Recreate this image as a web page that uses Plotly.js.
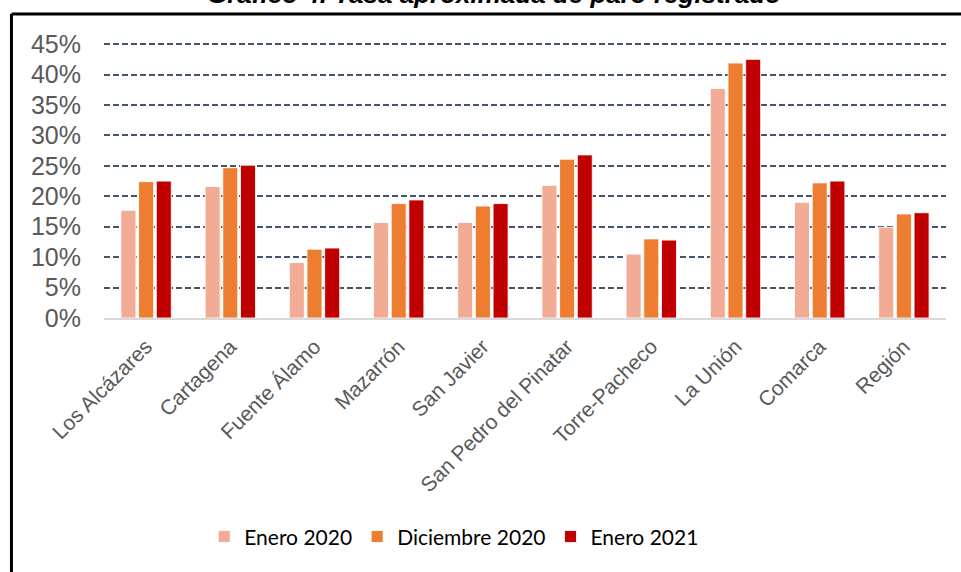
<!DOCTYPE html>
<html>
<head>
<meta charset="utf-8">
<script src="https://cdn.plot.ly/plotly-3.0.1.min.js"></script>
<style>
  html, body { margin: 0; padding: 0; background: #ffffff; }
  #chart { width: 961px; height: 572px; }
</style>
</head>
<body>
<div id="chart"></div>
<script>
const categories = ["Los Alcázares", "Cartagena", "Fuente Álamo", "Mazarrón", "San Javier",
  "San Pedro del Pinatar", "Torre-Pacheco", "La Unión", "Comarca", "Región"];
const seriesNames = ["Enero 2020", "Diciembre 2020", "Enero 2021"];
const enero2020 = [0.177, 0.216, 0.091, 0.157, 0.157, 0.218, 0.105, 0.377, 0.190, 0.149];
const diciembre2020 = [0.224, 0.247, 0.113, 0.188, 0.184, 0.261, 0.130, 0.419, 0.222, 0.171];
const enero2021 = [0.225, 0.251, 0.115, 0.194, 0.188, 0.268, 0.128, 0.425, 0.225, 0.173];
const yTickVals = [0, 0.05, 0.10, 0.15, 0.20, 0.25, 0.30, 0.35, 0.40, 0.45];
const yTickText = ["0%", "5%", "10%", "15%", "20%", "25%", "30%", "35%", "40%", "45%"];
const titleText = "Gráfico 4. Tasa aproximada de paro registrado";

const colors = ["#F2AB95", "#ED7D31", "#C00000"];
const values = [enero2020, diciembre2020, enero2021];

const traces = values.map((v, i) => ({
  type: "bar",
  name: seriesNames[i],
  x: categories,
  y: v,
  marker: { color: colors[i], line: { color: "rgba(255,255,255,0.85)", width: 1 } },
  hoverinfo: "x+y"
}));

const layout = {
  width: 961,
  height: 572,
  margin: { l: 104, r: 15, t: 42, b: 254 },
  paper_bgcolor: "#ffffff",
  plot_bgcolor: "#ffffff",
  barmode: "group",
  bargap: 0.37,
  bargroupgap: 0.15,
  showlegend: true,
  legend: {
    orientation: "h",
    x: 0.416, xanchor: "center",
    y: -0.793, yanchor: "middle",
    font: { family: "Lato, 'Open Sans', sans-serif", size: 21, color: "#000000" },
    itemwidth: 30,
    traceorder: "normal"
  },
  xaxis: {
    type: "category",
    tickangle: -45,
    tickfont: { family: "'Liberation Sans', Arial, sans-serif", size: 21, color: "#595959" },
    showline: true,
    linecolor: "#D9D9D9",
    linewidth: 2,
    ticks: "",
    showgrid: false,
    zeroline: false,
    ticklabelstandoff: 6
  },
  yaxis: {
    range: [0, 0.4535],
    tickvals: yTickVals,
    ticktext: yTickText,
    tickfont: { family: "'Liberation Sans', Arial, sans-serif", size: 25, color: "#595959" },
    showgrid: true,
    gridcolor: "#44546A",
    gridwidth: 1.5,
    griddash: "6px,3px",
    zeroline: false,
    showline: false,
    ticks: "",
    ticklabelstandoff: 22
  },
  annotations: [{
    text: "<b><i>" + titleText + "</i></b>",
    xref: "paper", yref: "paper",
    x: (493.5 - 104) / 842, xanchor: "center",
    y: 1.1138, yanchor: "bottom",
    showarrow: false,
    font: { family: "'Liberation Sans', Arial, sans-serif", size: 26, color: "#000000" }
  }],
  shapes: [
    { type: "line", xref: "paper", yref: "paper", x0: -0.1099, x1: 1.2, y0: 1.1014, y1: 1.1014,
      line: { color: "#000000", width: 3 } },
    { type: "line", xref: "paper", yref: "paper", x0: -0.1099, x1: -0.1099, y0: 1.1014, y1: -1.2,
      line: { color: "#000000", width: 3 } }
  ]
};

Plotly.newPlot("chart", traces, layout, { displayModeBar: false, responsive: false });
</script>
</body>
</html>
